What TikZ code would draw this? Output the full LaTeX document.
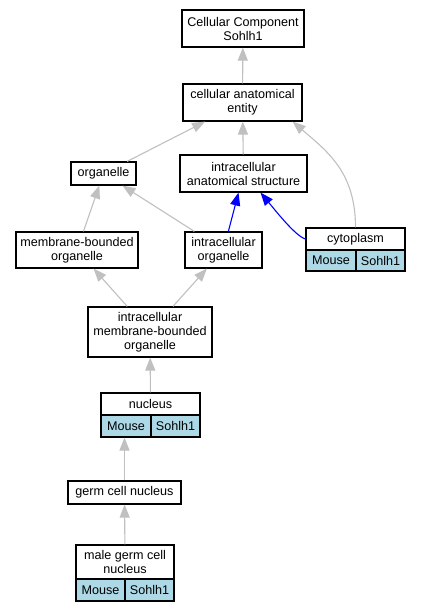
\documentclass[tikz,border=0pt]{standalone}
\usepackage{fontspec}
\setmainfont{Liberation Sans}
\usetikzlibrary{arrows.meta,calc}
\definecolor{edgegray}{HTML}{C0C0C0}
\definecolor{cellblue}{HTML}{ADD8E6}
\begin{document}
\begin{tikzpicture}[x=1pt,y=-1pt,
 box/.style={draw=black,line width=1.2pt,inner sep=0pt,align=center,font=\fontsize{12.6}{14}\selectfont,fill=white},
 cell/.style={box,fill=cellblue},
 garr/.style={draw=edgegray,line width=1.1pt,-{Triangle[length=13pt,width=10pt,fill=edgegray]}},
 barr/.style={draw=blue,line width=1.1pt,-{Triangle[length=13pt,width=10pt,fill=blue]}}]
\useasboundingbox (0,0) rectangle (421,613);
\fill[white] (0,0) rectangle (421,613);

\node[box,minimum width=122pt,minimum height=37pt] (cc) at (243,28.5) {Cellular Component\\Sohlh1};
\node[box,minimum width=119pt,minimum height=37pt] (cae) at (242.5,102.5) {cellular anatomical\\entity};
\node[box,minimum width=65pt,minimum height=23pt] (org) at (103.5,173.5) {organelle};
\node[box,minimum width=127pt,minimum height=37pt] (ias) at (243.5,173.5) {intracellular\\anatomical structure};
\node[box,minimum width=122pt,minimum height=36pt] (mbo) at (77,250) {membrane-bounded\\organelle};
\node[box,minimum width=77pt,minimum height=36pt] (io) at (223.5,250) {intracellular\\organelle};

\node[box,minimum width=99pt,minimum height=22pt] (cyto) at (355.5,239) {cytoplasm};
\node[cell,minimum width=50pt,minimum height=21pt] (cytoM) at (331,260.5) {Mouse};
\node[cell,minimum width=49pt,minimum height=21pt] (cytoS) at (380.5,260.5) {Sohlh1};

\node[box,minimum width=124pt,minimum height=50pt] (imbo) at (150,332) {intracellular\\membrane-bounded\\organelle};

\node[box,minimum width=99pt,minimum height=22pt] (nuc) at (150.5,404) {nucleus};
\node[cell,minimum width=50pt,minimum height=22pt] (nucM) at (126,426) {Mouse};
\node[cell,minimum width=49pt,minimum height=22pt] (nucS) at (175.5,426) {Sohlh1};

\node[box,minimum width=113pt,minimum height=23pt] (gcn) at (124.5,492.5) {germ cell nucleus};

\node[box,minimum width=98pt,minimum height=34pt] (mgcn) at (125,562) {male germ cell\\nucleus};
\node[cell,minimum width=49pt,minimum height=22pt] (mgcnM) at (100.5,590) {Mouse};
\node[cell,minimum width=49pt,minimum height=22pt] (mgcnS) at (149.5,590) {Sohlh1};

\draw[garr] (cae) -- (cc);
\draw[garr] (org) -- (cae);
\draw[garr] (ias) -- (cae);
\draw[garr] (cyto.north) .. controls +(0,-55) and +(35,30) .. ($(cae.south east)+(-10,0)$);
\draw[garr] (mbo) -- (org);
\draw[garr] (io) -- (org);
\draw[barr] (io) -- (ias);
\draw[barr] (cyto.west) .. controls +(-10,-3) and +(15,18) .. ($(ias.south)+(17,0)$);
\draw[garr] (imbo) -- (mbo);
\draw[garr] (imbo) -- (io);
\draw[garr] (nuc) -- (imbo);
\draw[garr] (gcn.north) -- (gcn.north |- nucM.south);
\draw[garr] (mgcn) -- (gcn);
\end{tikzpicture}
\end{document}
